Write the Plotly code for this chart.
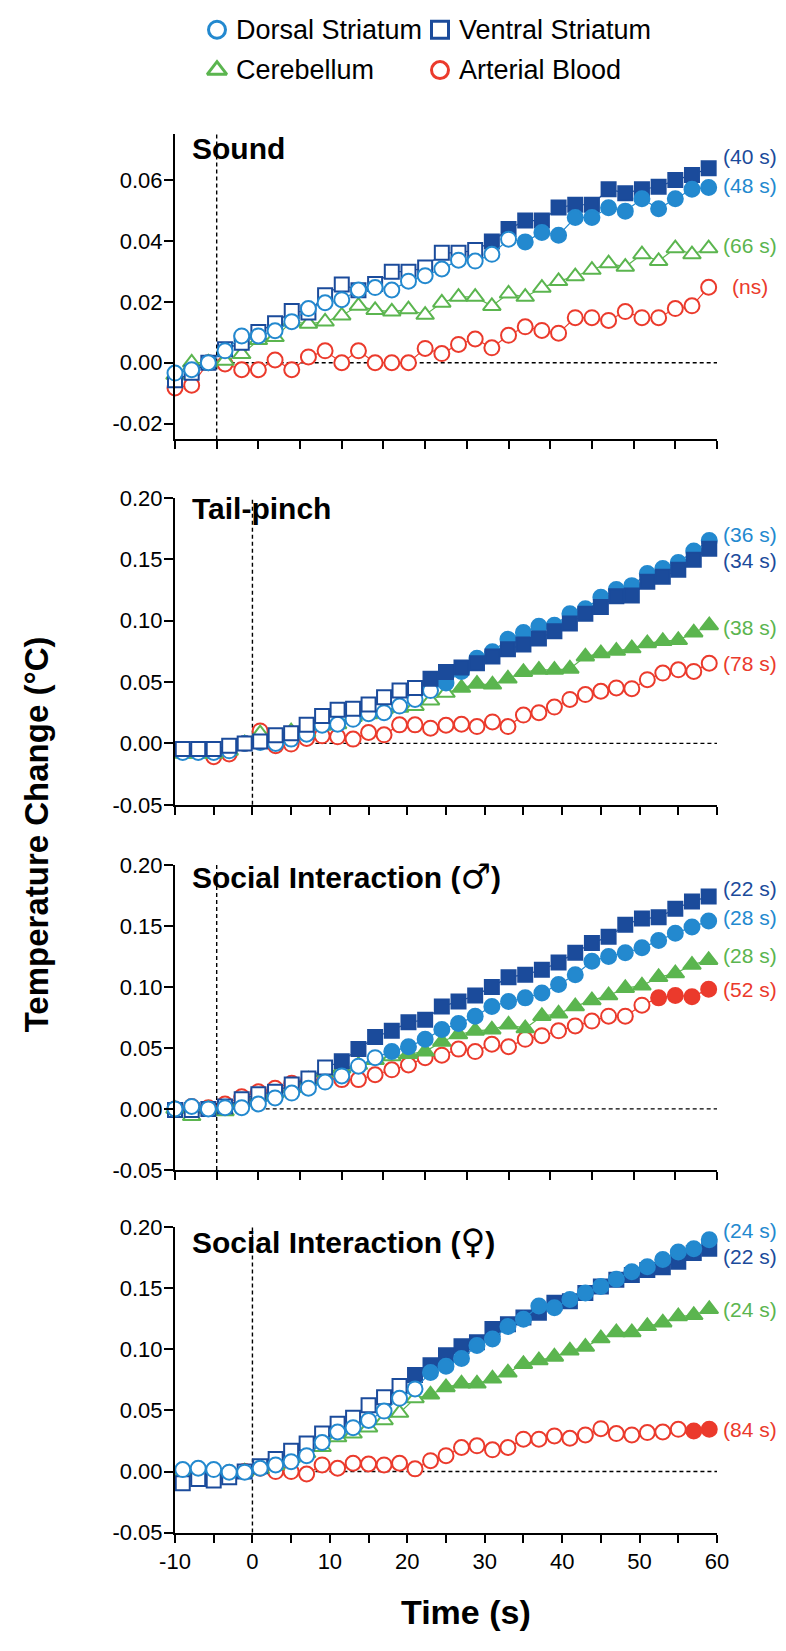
import plotly.graph_objects as go

FONT = "Liberation Sans, Arial, Helvetica, sans-serif"
W, H = 786, 1651
PLOT_L, PLOT_R = 175, 717

# ---------------- data ----------------
series_names = ["Dorsal Striatum", "Ventral Striatum", "Cerebellum", "Arterial Blood"]

time_short = [-5, -3, -1, 1, 3, 5, 7, 9, 11, 13, 15, 17, 19, 21, 23, 25, 27, 29,
              31, 33, 35, 37, 39, 41, 43, 45, 47, 49, 51, 53, 55, 57, 59]
time_long = [-9, -7] + time_short

# Sound
sound_dorsal = [-0.0034, -0.0023, 0.0000, 0.0039, 0.0088, 0.0088, 0.0105, 0.0135, 0.0178, 0.0197, 0.0207,
                0.0239, 0.0247, 0.0239, 0.0268, 0.0286, 0.0308, 0.0337, 0.0334, 0.0356, 0.0406, 0.0397,
                0.0428, 0.0419, 0.0477, 0.0477, 0.0509, 0.0498, 0.0539, 0.0506, 0.0539, 0.0570, 0.0576]
sound_ventral = [-0.0058, -0.0033, 0.0000, 0.0044, 0.0066, 0.0101, 0.0130, 0.0170, 0.0165, 0.0222, 0.0257,
                 0.0238, 0.0259, 0.0299, 0.0299, 0.0313, 0.0361, 0.0361, 0.0370, 0.0398, 0.0439, 0.0467,
                 0.0467, 0.0510, 0.0519, 0.0519, 0.0570, 0.0557, 0.0570, 0.0578, 0.0600, 0.0617, 0.0639]
sound_cereb = [-0.0040, 0.0000, 0.0000, 0.0006, 0.0028, 0.0074, 0.0084, 0.0135, 0.0128, 0.0135, 0.0155,
               0.0187, 0.0173, 0.0168, 0.0175, 0.0157, 0.0197, 0.0216, 0.0216, 0.0186, 0.0227, 0.0216,
               0.0246, 0.0268, 0.0284, 0.0305, 0.0326, 0.0315, 0.0356, 0.0334, 0.0376, 0.0356, 0.0376]
sound_blood = [-0.0083, -0.0074, 0.0000, -0.0004, -0.0023, -0.0023, 0.0009, -0.0023, 0.0019, 0.0039, 0.0000,
               0.0039, 0.0000, 0.0000, 0.0000, 0.0047, 0.0030, 0.0060, 0.0078, 0.0049, 0.0090, 0.0118,
               0.0106, 0.0097, 0.0148, 0.0148, 0.0139, 0.0168, 0.0148, 0.0148, 0.0178, 0.0187, 0.0248]

# Tail-pinch
tail_dorsal = [-0.0073, -0.0073, -0.0073, -0.0060, 0.0000, 0.0008, 0.0000, 0.0035, 0.0075, 0.0148, 0.0156,
               0.0196, 0.0242, 0.0250, 0.0304, 0.0358, 0.0430, 0.0492, 0.0586, 0.0694, 0.0747, 0.0849,
               0.0903, 0.0954, 0.0962, 0.1056, 0.1097, 0.1191, 0.1253, 0.1285, 0.1384, 0.1425, 0.1473,
               0.1567, 0.1653]
tail_ventral = [-0.0046, -0.0046, -0.0046, -0.0019, 0.0000, 0.0016, 0.0067, 0.0083, 0.0151, 0.0223, 0.0274,
                0.0282, 0.0317, 0.0376, 0.0430, 0.0452, 0.0527, 0.0581, 0.0618, 0.0653, 0.0707, 0.0766,
                0.0806, 0.0855, 0.0914, 0.0976, 0.1056, 0.1110, 0.1199, 0.1204, 0.1317, 0.1358, 0.1414,
                0.1495, 0.1586]
tail_cereb = [-0.0086, -0.0086, -0.0086, -0.0060, 0.0000, 0.0081, 0.0048, 0.0097, 0.0089, 0.0142, 0.0156,
              0.0215, 0.0237, 0.0277, 0.0290, 0.0304, 0.0349, 0.0411, 0.0452, 0.0484, 0.0478, 0.0527,
              0.0581, 0.0599, 0.0599, 0.0608, 0.0707, 0.0734, 0.0753, 0.0774, 0.0815, 0.0833, 0.0841,
              0.0903, 0.0962]
tail_blood = [-0.0060, -0.0060, -0.0108, -0.0086, 0.0000, 0.0102, -0.0019, -0.0005, 0.0040, 0.0062, 0.0054,
              0.0035, 0.0089, 0.0070, 0.0151, 0.0151, 0.0124, 0.0148, 0.0156, 0.0137, 0.0175, 0.0137,
              0.0231, 0.0250, 0.0296, 0.0358, 0.0398, 0.0425, 0.0452, 0.0446, 0.0519, 0.0573, 0.0599,
              0.0586, 0.0653]

# Social interaction (male)
male_dorsal = [0.000, 0.002, 0.000, 0.001, 0.001, 0.004, 0.009, 0.013, 0.017, 0.022, 0.027, 0.035, 0.042,
               0.047, 0.051, 0.057, 0.065, 0.070, 0.076, 0.084, 0.088, 0.091, 0.095, 0.102, 0.110, 0.121,
               0.125, 0.128, 0.132, 0.138, 0.144, 0.149, 0.154]
male_ventral = [-0.001, -0.001, 0.000, 0.002, 0.008, 0.012, 0.014, 0.020, 0.025, 0.034, 0.039, 0.049, 0.059,
                0.064, 0.071, 0.073, 0.084, 0.088, 0.093, 0.100, 0.108, 0.110, 0.114, 0.120, 0.128, 0.136,
                0.141, 0.151, 0.156, 0.157, 0.164, 0.170, 0.174]
male_cereb = [0.000, -0.006, 0.000, -0.002, 0.006, 0.010, 0.013, 0.017, 0.024, 0.030, 0.033, 0.036, 0.040,
              0.043, 0.045, 0.047, 0.055, 0.061, 0.064, 0.065, 0.069, 0.066, 0.076, 0.078, 0.084, 0.089,
              0.093, 0.099, 0.101, 0.108, 0.111, 0.118, 0.122]
male_blood = [0.000, 0.002, 0.001, 0.004, 0.010, 0.014, 0.017, 0.021, 0.023, 0.025, 0.024, 0.024, 0.028,
              0.032, 0.036, 0.042, 0.044, 0.049, 0.047, 0.053, 0.051, 0.057, 0.060, 0.064, 0.068, 0.072,
              0.076, 0.076, 0.085, 0.091, 0.093, 0.092, 0.098]

# Social interaction (female)
fem_dorsal = [0.0016, 0.0027, 0.0016, -0.0005, -0.0005, 0.0027, 0.0054, 0.0081, 0.0130, 0.0238, 0.0324,
              0.0359, 0.0419, 0.0495, 0.0600, 0.0677, 0.0812, 0.0863, 0.0925, 0.1032, 0.1086, 0.1188,
              0.1247, 0.1355, 0.1341, 0.1409, 0.1462, 0.1516, 0.1575, 0.1637, 0.1677, 0.1737, 0.1798,
              0.1825, 0.1898]
fem_ventral = [-0.0095, -0.0060, -0.0073, -0.0046, 0.0000, 0.0043, 0.0103, 0.0170, 0.0230, 0.0311, 0.0392,
               0.0440, 0.0543, 0.0608, 0.0700, 0.0790, 0.0871, 0.0952, 0.1027, 0.1059, 0.1167, 0.1207,
               0.1261, 0.1301, 0.1382, 0.1395, 0.1462, 0.1516, 0.1570, 0.1610, 0.1651, 0.1672, 0.1718,
               0.1790, 0.1825]
fem_cereb = [0.000, 0.000, 0.000, -0.001, 0.000, 0.002, 0.005, 0.011, 0.015, 0.020, 0.028, 0.031, 0.036,
             0.042, 0.048, 0.060, 0.063, 0.069, 0.072, 0.072, 0.076, 0.081, 0.088, 0.091, 0.094, 0.099,
             0.102, 0.109, 0.114, 0.114, 0.119, 0.122, 0.127, 0.128, 0.133]
fem_blood = [0.000, 0.000, 0.000, -0.001, 0.000, 0.0027, 0.000, 0.000, -0.002, 0.0054, 0.0027, 0.0068,
             0.0062, 0.0054, 0.0068, 0.0022, 0.0089, 0.0130, 0.0197, 0.0211, 0.0178, 0.0197, 0.0265,
             0.0265, 0.0292, 0.0273, 0.0300, 0.0351, 0.0311, 0.0300, 0.0319, 0.0324, 0.0346, 0.0332, 0.0346]

# first time point (s) that is significant (filled marker); None = never
sound_onset = [37, 33, None, None]
tail_onset = [25, 23, 27, None]
male_onset = [21, 15, 23, 53]
fem_onset = [23, 21, 23, 57]

# end-of-line labels: (text, series index, y value)
sound_labels = [("(40 s)", 1, 0.0679), ("(48 s)", 0, 0.0582), ("(66 s)", 2, 0.0385), ("(ns)", 3, 0.0252)]
tail_labels = [("(36 s)", 0, 0.170), ("(34 s)", 1, 0.1487), ("(38 s)", 2, 0.0944), ("(78 s)", 3, 0.0653)]
male_labels = [("(22 s)", 1, 0.181), ("(28 s)", 0, 0.157), ("(28 s)", 2, 0.1257), ("(52 s)", 3, 0.0978)]
fem_labels = [("(24 s)", 0, 0.1973), ("(22 s)", 1, 0.1758), ("(24 s)", 2, 0.1323), ("(84 s)", 3, 0.0346)]

panel_titles = ["Sound", "Tail-pinch", "Social Interaction (", "Social Interaction ("]
panel_symbols = ["", "", "\u2642", "\u2640"]

y_ticks_sound = [-0.02, 0.00, 0.02, 0.04, 0.06]
y_ticktext_sound = ["-0.02", "0.00", "0.02", "0.04", "0.06"]
y_ticks_big = [-0.05, 0.00, 0.05, 0.10, 0.15, 0.20]
y_ticktext_big = ["-0.05", "0.00", "0.05", "0.10", "0.15", "0.20"]
x_ticks = [-10, -5, 0, 5, 10, 15, 20, 25, 30, 35, 40, 45, 50, 55, 60]
x_ticktext = ["-10", "", "0", "", "10", "", "20", "", "30", "", "40", "", "50", "", "60"]

# ---------------- styles / layout ----------------
COLORS = ["#2389cf", "#1b4b9b", "#5bb54f", "#eb3a2c"]
SYMBOLS = ["circle", "square", "triangle-up", "circle"]
MSIZE = [15, 14, 15.5, 15]

panels = [
    dict(t=time_short, s=[sound_dorsal, sound_ventral, sound_cereb, sound_blood], on=sound_onset,
         lab=sound_labels, xr=[-5, 60], yr=[-0.0252, 0.0751], yt=(y_ticks_sound, y_ticktext_sound),
         top=124.0, bot=434.0, ty=139.0, order=[3, 2, 1, 0]),
    dict(t=time_long, s=[tail_dorsal, tail_ventral, tail_cereb, tail_blood], on=tail_onset,
         lab=tail_labels, xr=[-10, 60], yr=[-0.05, 0.20], yt=(y_ticks_big, y_ticktext_big),
         top=493.3, bot=805.0, ty=504.0, order=[3, 2, 0, 1]),
    dict(t=time_short, s=[male_dorsal, male_ventral, male_cereb, male_blood], on=male_onset,
         lab=male_labels, xr=[-5, 60], yr=[-0.05, 0.20], yt=(y_ticks_big, y_ticktext_big),
         top=866.0, bot=1175.7, ty=877.0, order=[3, 2, 1, 0]),
    dict(t=time_long, s=[fem_dorsal, fem_ventral, fem_cereb, fem_blood], on=fem_onset,
         lab=fem_labels, xr=[-10, 60], yr=[-0.05, 0.20], yt=(y_ticks_big, y_ticktext_big),
         top=1234.0, bot=1544.0, ty=1248.0, order=[3, 2, 1, 0]),
]

fig = go.Figure()
annotations = []
shapes = []
layout_axes = {}


def py(pix):
    return 1 - pix / H


def px(pix):
    return (pix - PLOT_L) / (PLOT_R - PLOT_L)


for k, p in enumerate(panels):
    n = k + 1
    xa = "x" if n == 1 else f"x{n}"
    ya = "y" if n == 1 else f"y{n}"
    for si in p["order"]:
        color = COLORS[si]
        onset = p["on"][si]
        fills = [color if (onset is not None and t >= onset) else "white" for t in p["t"]]
        fig.add_trace(go.Scatter(
            x=p["t"], y=p["s"][si], xaxis=xa, yaxis=ya, mode="lines+markers",
            line=dict(color=color, width=1.2),
            marker=dict(symbol=SYMBOLS[si], size=MSIZE[si], color=fills,
                        line=dict(color=color, width=2)),
            cliponaxis=False, showlegend=False, hoverinfo="skip"))
    last = n == 4
    layout_axes[f"xaxis{'' if n == 1 else n}"] = dict(
        domain=[0, 1], anchor=ya, range=p["xr"], showline=True, linecolor="black", linewidth=2,
        ticks="outside", ticklen=8, tickwidth=2, tickcolor="black",
        tickvals=[v for v in x_ticks if v >= p["xr"][0]],
        ticktext=[tt for v, tt in zip(x_ticks, x_ticktext) if v >= p["xr"][0]],
        showticklabels=last, showgrid=False, zeroline=False,
        tickfont=dict(family=FONT, size=22, color="black"))
    layout_axes[f"yaxis{'' if n == 1 else n}"] = dict(
        domain=[py(p["bot"]), py(p["top"])], anchor=xa, range=p["yr"], showline=True,
        linecolor="black", linewidth=2, ticks="outside", ticklen=9, tickwidth=2, tickcolor="black",
        tickvals=p["yt"][0], ticktext=p["yt"][1], showgrid=False, zeroline=False,
        ticklabelstandoff=-3,
        tickfont=dict(family=FONT, size=22, color="black"))
    # stimulus onset and baseline dashed lines
    shapes.append(dict(type="line", xref=xa, yref=f"{ya} domain", x0=0, x1=0, y0=0, y1=1,
                       line=dict(color="black", width=1.4, dash="4px,3px"), layer="below"))
    shapes.append(dict(type="line", xref=xa, yref=ya, x0=0, x1=60, y0=0, y1=0,
                       line=dict(color="black", width=1.4, dash="4px,3px"), layer="below"))
    # panel title
    title = f"<b>{panel_titles[k]}</b>"
    if panel_symbols[k]:
        title += (f"<span style='font-family:DejaVu Sans;font-size:34px'><b>{panel_symbols[k]}</b></span>"
                  "<b>)</b>")
    annotations.append(dict(text=title, xref="paper", yref="paper",
                            x=px(190), y=py(p["ty"]),
                            xanchor="left", yanchor="middle", showarrow=False,
                            font=dict(family=FONT, size=30, color="black")))
    # end labels
    for text, si, yv in p["lab"]:
        annotations.append(dict(text=text, xref="paper", yref=ya,
                                x=px(750), y=yv,
                                xanchor="center", yanchor="middle", showarrow=False,
                                font=dict(family=FONT, size=21, color=COLORS[si])))

# legend (drawn on a hidden pixel-unit axis at the top)
legend_x = [217, 440, 217, 440]
legend_y = [18, 18, 59, 59]
legend_series = [0, 1, 2, 3]
layout_axes["xaxis5"] = dict(domain=[0, 1], range=[PLOT_L, PLOT_R], visible=False, anchor="y5")
layout_axes["yaxis5"] = dict(domain=[py(90), 1], range=[90, 0], visible=False, anchor="x5")
for lx, ly, si in zip(legend_x, legend_y, legend_series):
    fig.add_trace(go.Scatter(x=[lx], y=[ly], xaxis="x5", yaxis="y5", mode="markers",
                             marker=dict(symbol=SYMBOLS[si], size=17, color="white",
                                         line=dict(color=COLORS[si], width=3)),
                             cliponaxis=False, showlegend=False, hoverinfo="skip"))
    annotations.append(dict(text=series_names[si], xref="x5", yref="y5", x=lx + 17, y=ly,
                            xanchor="left", yanchor="middle", showarrow=False,
                            font=dict(family=FONT, size=27, color="black")))

# axis titles
annotations.append(dict(text="<b>Temperature Change (\u00b0C)</b>", xref="paper", yref="paper",
                        x=px(36), y=py(835), textangle=-90,
                        xanchor="center", yanchor="middle", showarrow=False,
                        font=dict(family=FONT, size=33, color="black")))
annotations.append(dict(text="<b>Time (s)</b>", xref="paper", yref="paper",
                        x=px(466), y=py(1625),
                        xanchor="center", yanchor="middle", showarrow=False,
                        font=dict(family=FONT, size=34, color="black")))

fig.update_layout(
    width=W, height=H, margin=dict(l=PLOT_L, r=W - PLOT_R, t=0, b=0),
    paper_bgcolor="white", plot_bgcolor="white", showlegend=False,
    annotations=annotations, shapes=shapes, font=dict(family=FONT, color="black"),
    **layout_axes)

fig.write_html("out.html", include_plotlyjs=True, config={"displayModeBar": False})
